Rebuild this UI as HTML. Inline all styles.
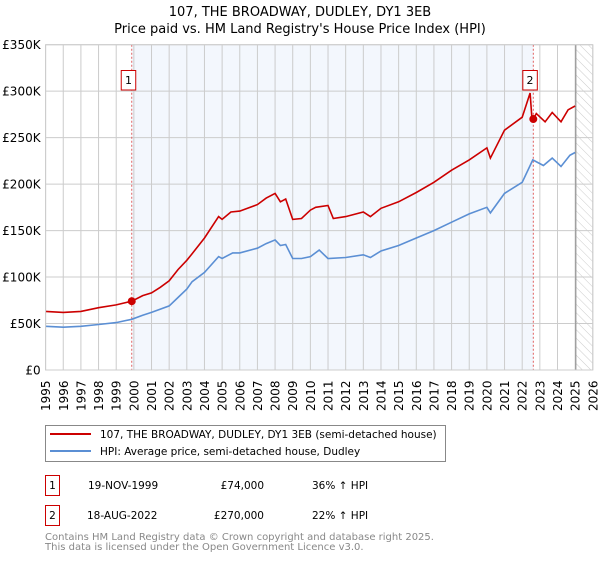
<!DOCTYPE html>
<html><head><meta charset="utf-8"><style>
body{margin:0;background:#fff;font-family:"DejaVu Sans","Liberation Sans",sans-serif;}
svg text{font-family:"DejaVu Sans","Liberation Sans",sans-serif;}
</style></head><body>
<svg id="chart" width="600" height="560" xmlns="http://www.w3.org/2000/svg">
<defs><pattern id="hatch" width="6" height="6" patternUnits="userSpaceOnUse" patternTransform="rotate(-45)"><line x1="0" y1="0" x2="0" y2="6" stroke="#ccc" stroke-width="1"/></pattern></defs>
<text x="300" y="16" text-anchor="middle" font-size="13">107, THE BROADWAY, DUDLEY, DY1 3EB</text>
<text x="300" y="33" text-anchor="middle" font-size="13">Price paid vs. HM Land Registry's House Price Index (HPI)</text>
<g id="plot"></g>
<rect x="45.5" y="425.5" width="400" height="36" fill="#fff" stroke="#888"/>
<line x1="50" y1="434" x2="91" y2="434" stroke="#cc0000" stroke-width="2"/>
<text x="100" y="438" font-size="10.5">107, THE BROADWAY, DUDLEY, DY1 3EB (semi-detached house)</text>
<line x1="50" y1="451" x2="91" y2="451" stroke="#5b8fd4" stroke-width="2"/>
<text x="100" y="455" font-size="10.5">HPI: Average price, semi-detached house, Dudley</text>
<g>
<rect x="45.5" y="475.5" width="14" height="20" fill="#fff" stroke="#cc0000"/>
<text x="52.5" y="489" text-anchor="middle" font-size="10.5">1</text>
<text x="88" y="489" font-size="10.5">19-NOV-1999</text>
<text x="264" y="489" text-anchor="end" font-size="10.5">£74,000</text>
<text x="312" y="489" font-size="10.5">36% ↑ HPI</text></g>
<g>
<rect x="45.5" y="505.5" width="14" height="20" fill="#fff" stroke="#cc0000"/>
<text x="52.5" y="519" text-anchor="middle" font-size="10.5">2</text>
<text x="87" y="519" font-size="10.5">18-AUG-2022</text>
<text x="264" y="519" text-anchor="end" font-size="10.5">£270,000</text>
<text x="312" y="519" font-size="10.5">22% ↑ HPI</text></g>
<text x="45" y="540" font-size="10" fill="#888">Contains HM Land Registry data © Crown copyright and database right 2025.</text>
<text x="45" y="550" font-size="10" fill="#888">This data is licensed under the Open Government Licence v3.0.</text>
</svg>
<script>
const yearTicks=[1995,1996,1997,1998,1999,2000,2001,2002,2003,2004,2005,2006,2007,2008,2009,2010,2011,2012,2013,2014,2015,2016,2017,2018,2019,2020,2021,2022,2023,2024,2025,2026];
const priceTicks=[0,50000,100000,150000,200000,250000,300000,350000];
const priceTickLabels=["£0","£50K","£100K","£150K","£200K","£250K","£300K","£350K"];
const hpiDates=[1995,1996,1997,1998,1999,1999.88,2000.5,2001,2002,2002.5,2003,2003.3,2004,2004.8,2005,2005.6,2006,2007,2007.5,2008,2008.3,2008.6,2009,2009.5,2010,2010.5,2011,2012,2013,2013.4,2014,2015,2016,2017,2018,2019,2020,2020.2,2021,2022,2022.6,2023.2,2023.7,2024.2,2024.7,2025];
const hpiValues=[47000,46000,47000,49000,51000,54500,59000,62000,69000,78000,87000,95000,105000,122000,120000,126000,126000,131000,136000,140000,134000,135000,120000,120000,122000,129000,120000,121000,124000,121000,128000,134000,142000,150000,159000,168000,175000,169000,190000,202000,226000,220000,228000,219000,231000,234000];
const priceDates=[1995,1996,1997,1998,1999,1999.88,2000.5,2001,2001.5,2002,2002.5,2003,2003.3,2004,2004.8,2005,2005.5,2006,2007,2007.5,2008,2008.3,2008.6,2009,2009.5,2010,2010.3,2011,2011.3,2012,2013,2013.4,2014,2015,2016,2017,2018,2019,2020,2020.2,2021,2022,2022.45,2022.55,2022.63,2022.8,2023.3,2023.7,2024.2,2024.6,2025];
const priceValues=[63000,62000,63000,67000,70000,74000,80000,83000,89000,96000,108000,118000,125000,142000,165000,162000,170000,171000,178000,185000,190000,181000,184000,162000,163000,172000,175000,177000,163000,165000,170000,165000,174000,181000,191000,202000,215000,226000,239000,228000,258000,272000,298000,271000,270000,276000,267000,277000,267000,280000,284000];
const saleDates=[1999.88,2022.63];
const saleValues=[74000,270000];
const saleLabels=["1","2"];
const X0=45.6,X1=592.8,Y0=370,Y1=44.7;
const xs=y=>X0+(y-1995)/(2026-1995)*(X1-X0);
const ys=v=>Y0-v/350000*(Y0-Y1);
const NS="http://www.w3.org/2000/svg";
const g=document.getElementById('plot');
function mk(t,a){const e=document.createElementNS(NS,t);for(const k in a)e.setAttribute(k,a[k]);g.appendChild(e);return e;}
let e=mk('rect',{x:xs(saleDates[0]),y:Y1,width:xs(saleDates[1])-xs(saleDates[0]),height:Y0-Y1,fill:'#eef3fc',opacity:0.7});


e=mk('rect',{x:xs(2025.04),y:Y1,width:X1-xs(2025.04),height:Y0-Y1,fill:'url(#hatch)'});


yearTicks.forEach((yr,i)=>{
 const l=mk('line',{x1:xs(yr),x2:xs(yr),y1:Y1,y2:Y0,stroke:'#ccc','stroke-width':1});
 
 
 const t=mk('text',{x:0,y:0,'font-size':12,transform:`translate(${xs(yr)+4.5},${Y0+41}) rotate(-90)`});
 t.textContent=yr;
 
 
});
priceTicks.forEach((v,i)=>{
 const l=mk('line',{x1:X0,x2:X1,y1:ys(v),y2:ys(v),stroke:'#ccc','stroke-width':1});
 
 
 const t=mk('text',{x:X0-5,y:ys(v)+4.5,'font-size':12,'text-anchor':'end'});
 t.textContent=priceTickLabels[i];
 
 
});
e=mk('line',{x1:xs(2025.04),x2:xs(2025.04),y1:Y1,y2:Y0,stroke:'#888','stroke-width':1});


saleDates.forEach((d,i)=>{
 const l=mk('line',{x1:xs(d),x2:xs(d),y1:Y1,y2:Y0,stroke:'#e06060','stroke-width':1,'stroke-dasharray':'2,2'});
 
 
});
function path(ds,vs,col,name){const p=mk('path',{d:ds.map((d,i)=>(i?'L':'M')+xs(d).toFixed(1)+','+ys(vs[i]).toFixed(1)).join(''),fill:'none',stroke:col,'stroke-width':1.6});
 
 }
path(hpiDates,hpiValues,'#5b8fd4','hpi-line');
path(priceDates,priceValues,'#cc0000','price-line');
saleDates.forEach((d,i)=>{
 const c=mk('circle',{cx:xs(d),cy:ys(saleValues[i]),r:4,fill:'#cc0000'});
 
 
 const r=mk('rect',{x:xs(d)-10.5,y:70.5,width:14.5,height:19.5,fill:'#fff',stroke:'#cc0000'});
 
 
 const t=mk('text',{x:xs(d)-3.3,y:84,'font-size':11,'text-anchor':'middle'});
 t.textContent=saleLabels[i];
 
 
});
e=mk('rect',{x:X0,y:Y1,width:X1-X0,height:Y0-Y1,fill:'none',stroke:'#ccc'});


</script>
</body></html>
